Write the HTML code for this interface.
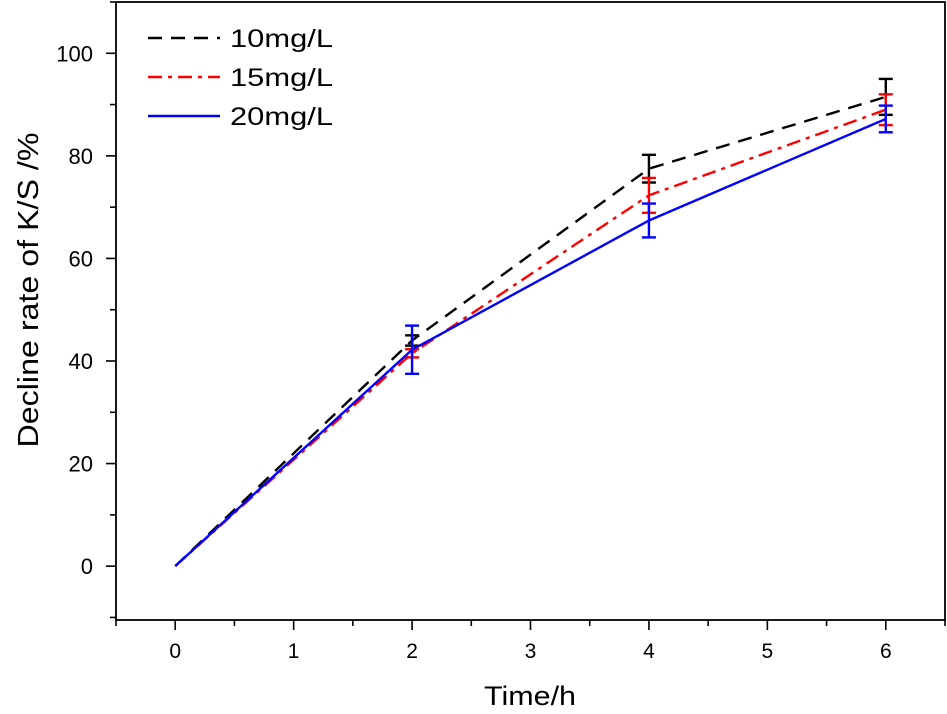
<!DOCTYPE html>
<html><head><meta charset="utf-8"><style>
body{margin:0;background:#fff;}
svg text{font-family:"Liberation Sans",Arial,sans-serif;}
</style></head><body>
<svg id="chart" width="947" height="709" xmlns="http://www.w3.org/2000/svg"></svg>
<script>
const times=[0,2,4,6];
const s10=[0,44,77.5,91.5];
const s15=[0,41.5,72.3,89];
const s20=[0,42.2,67.4,87.2];
const e10=[0,1,2.7,3.5];
const e15=[0,0.8,3.4,3];
const e20=[0,4.7,3.3,2.6];
const xTicks=[0,1,2,3,4,5,6];
const yTicks=[0,20,40,60,80,100];
const L=116,R=945,T=2,B=620;
const xMin=-0.5,xMax=6.5,yMin=-10.5,yMax=110;
const X=v=>L+(v-xMin)/(xMax-xMin)*(R-L);
const Y=v=>B-(v-yMin)/(yMax-yMin)*(B-T);
const svg=document.getElementById('chart');
const NS='http://www.w3.org/2000/svg';
function mk(tag,attrs,parent){const e=document.createElementNS(NS,tag);for(const k in attrs)e.setAttribute(k,attrs[k]);(parent||svg).appendChild(e);return e;}
const frame=mk('rect',{x:L,y:T,width:R-L,height:B-T,fill:'none',stroke:'#000','stroke-width':1.8});


for(let v=-0.5;v<=6.5;v+=0.5){const maj=Number.isInteger(v);const t=mk('line',{x1:X(v),x2:X(v),y1:B,y2:B+(maj?10:6),stroke:'#000','stroke-width':1.6});

}
xTicks.forEach(v=>{const t=mk('text',{x:X(v),y:B+38,'text-anchor':'middle','font-size':21});t.textContent=v;

});
for(let v=-10;v<=110;v+=10){const maj=v%20===0;const t=mk('line',{x1:L,x2:L-(maj?10:6),y1:Y(v),y2:Y(v),stroke:'#000','stroke-width':1.6});

}
yTicks.forEach(v=>{const t=mk('text',{x:L-23,y:Y(v)+8,'text-anchor':'end','font-size':22});t.textContent=v;

});
const xt=mk('text',{x:530,y:705,'text-anchor':'middle','font-size':27,textLength:92,lengthAdjust:'spacingAndGlyphs'});xt.textContent='Time/h';


const yt=mk('text',{x:290,y:38,'text-anchor':'middle','font-size':29,textLength:315,lengthAdjust:'spacingAndGlyphs',transform:'translate(0 580) rotate(-90)'});yt.textContent='Decline rate of K/S /%';


const series=[{d:s10,e:e10,c:'#000',dash:'14,9',n:'10mg/L'},{d:s15,e:e15,c:'#f00',dash:'14,6,4,6',n:'15mg/L'},{d:s20,e:e20,c:'#00f',dash:'',n:'20mg/L'}];
series.forEach((s,i)=>{
 const p=mk('polyline',{points:times.map((t,j)=>X(t)+','+Y(s.d[j])).join(' '),fill:'none',stroke:s.c,'stroke-width':2.4,'stroke-dasharray':s.dash});
 
 
 times.forEach((t,j)=>{if(!s.e[j])return;const g=mk('g',{stroke:s.c,'stroke-width':2.4});
  
  
  const x=X(t),a=Y(s.d[j]+s.e[j]),b=Y(s.d[j]-s.e[j]);
  mk('line',{x1:x,x2:x,y1:a,y2:b},g);mk('line',{x1:x-7,x2:x+7,y1:a,y2:a},g);mk('line',{x1:x-7,x2:x+7,y1:b,y2:b},g);});
 const ly=38+i*39;
 const ll=mk('line',{x1:148,x2:220,y1:ly,y2:ly,stroke:s.c,'stroke-width':2.4,'stroke-dasharray':s.dash});
 
 
 const lt=mk('text',{x:230,y:ly+9,'font-size':25,textLength:103,lengthAdjust:'spacingAndGlyphs'});lt.textContent=s.n;
 
 
});
</script>
</body></html>
